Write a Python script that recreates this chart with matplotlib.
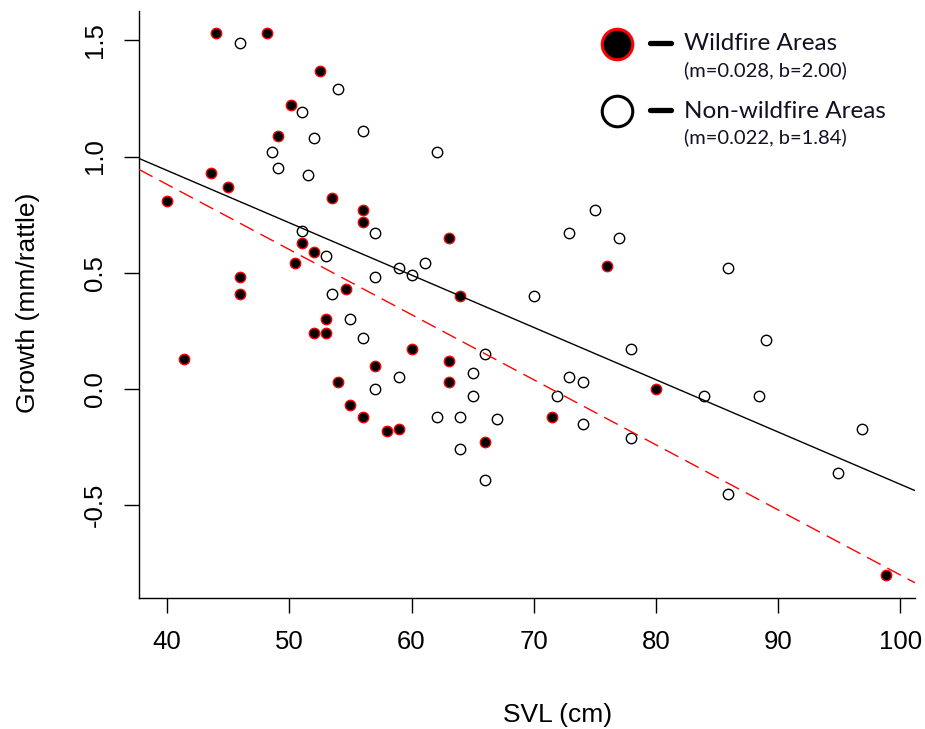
import numpy as np
import matplotlib
matplotlib.use("Agg")
import matplotlib.pyplot as plt
from matplotlib.lines import Line2D

# wildfire areas (filled markers)
fire_svl = [44.0, 48.2, 52.5, 50.1, 49.1, 43.6, 45.0, 40.0, 53.5, 56.0, 56.0, 63.1,
            51.0, 52.0, 50.5, 46.0, 46.0, 54.6, 64.0, 53.0, 52.0, 53.0, 41.4, 60.0,
            63.1, 57.0, 54.0, 63.1, 55.0, 56.0, 58.0, 59.0, 66.0, 80.0, 71.5, 76.0, 98.8]
fire_growth = [1.53, 1.53, 1.37, 1.22, 1.09, 0.93, 0.87, 0.81, 0.82, 0.77, 0.72, 0.65,
               0.63, 0.59, 0.54, 0.48, 0.41, 0.43, 0.40, 0.30, 0.24, 0.24, 0.13, 0.17,
               0.12, 0.10, 0.03, 0.03, -0.07, -0.12, -0.18, -0.17, -0.23, 0.00, -0.12, 0.53, -0.80]

# non-wildfire areas (open markers)
non_svl = [46.0, 54.0, 51.0, 56.0, 52.0, 48.6, 62.1, 49.1, 51.5, 51.0, 57.0, 53.0,
           59.0, 60.0, 61.1, 57.0, 53.5, 70.0, 55.0, 56.0, 66.0, 59.0, 57.0, 65.0,
           65.0, 62.1, 64.0, 67.0, 64.0, 66.0, 75.0, 72.9, 77.0, 85.9, 78.0, 89.0,
           72.9, 74.0, 71.9, 83.9, 88.4, 74.0, 78.0, 96.9, 94.9, 85.9]
non_growth = [1.49, 1.29, 1.19, 1.11, 1.08, 1.02, 1.02, 0.95, 0.92, 0.68, 0.67, 0.57,
              0.52, 0.49, 0.54, 0.48, 0.41, 0.40, 0.30, 0.22, 0.15, 0.05, 0.00, 0.07,
              -0.03, -0.12, -0.12, -0.13, -0.26, -0.39, 0.77, 0.67, 0.65, 0.52, 0.17, 0.21,
              0.05, 0.03, -0.03, -0.03, -0.03, -0.15, -0.21, -0.17, -0.36, -0.45]

# fitted lines: intercept, slope
fire_fit = (2.00, -0.028)
non_fit = (1.84, -0.0225)

legend_titles = ["Wildfire Areas", "Non-wildfire Areas"]
legend_subs = ["(m=0.028, b=2.00)", "(m=0.022, b=1.84)"]

W, H = 925, 729
fig = plt.figure(figsize=(W / 100, H / 100), dpi=100)
ax = fig.add_axes([139 / W, 1 - 598 / H, (915 - 139) / W, (598 - 11) / H])

ax.plot(non_svl, non_growth, 'o', ms=7.5, mfc='white', mec='black', mew=1.0, zorder=2)
ax.plot(fire_svl, fire_growth, 'o', ms=7.5, mfc='black', mec='red', mew=1.0, zorder=3)

ax.axline((0, non_fit[0]), slope=non_fit[1], color='black', lw=1.0, zorder=4)
ax.axline((0, fire_fit[0]), slope=fire_fit[1], color='red', lw=1.0,
          dashes=(11, 5.5), zorder=4)

ax.set_xlim(37.7, 101.2)
ax.set_ylim(-0.899, 1.626)
ax.set_xticks([40, 50, 60, 70, 80, 90, 100])
ax.set_yticks([-0.5, 0.0, 0.5, 1.0, 1.5])
ax.set_yticklabels(["-0.5", "0.0", "0.5", "1.0", "1.5"], rotation=90, va='center')

for s in ['top', 'right']:
    ax.spines[s].set_visible(False)
for s in ['left', 'bottom']:
    ax.spines[s].set_linewidth(1.0)

fnt = 'Liberation Sans'
ax.tick_params(length=11, width=1.0, labelsize=18.5, pad=12, color='black')
for lab in ax.get_xticklabels() + ax.get_yticklabels():
    lab.set_fontfamily(fnt)

fig.text(558 / W, 1 - 715 / H, "SVL (cm)", ha='center', va='center',
         fontsize=19, family=fnt)
fig.text(28 / W, 1 - 303 / H, "Growth (mm/rattle)", ha='center', va='center',
         rotation=90, fontsize=19, family=fnt)

# hand-placed legend
rows = [(44, 'black', 'red'), (111, 'white', 'black')]
for i, (py, fc, ec) in enumerate(rows):
    fy = 1 - py / H
    fig.add_artist(Line2D([617 / W], [fy], marker='o', ms=22, mfc=fc, mec=ec, mew=2.2,
                          transform=fig.transFigure))
    fig.add_artist(Line2D([650 / W, 671 / W], [1 - (py - 1) / H] * 2, color='black',
                          lw=3.8, solid_capstyle='round', transform=fig.transFigure))
    fig.text(684 / W, 1 - (py + 0) / H, legend_titles[i], ha='left', va='center',
             fontsize=17.5, family='Lato', color='#111122')
    fig.text(684 / W, 1 - (py + 26) / H, legend_subs[i], ha='left', va='center',
             fontsize=14.5, family='Lato', color='#111122')

fig.savefig("out.png", dpi=100)
